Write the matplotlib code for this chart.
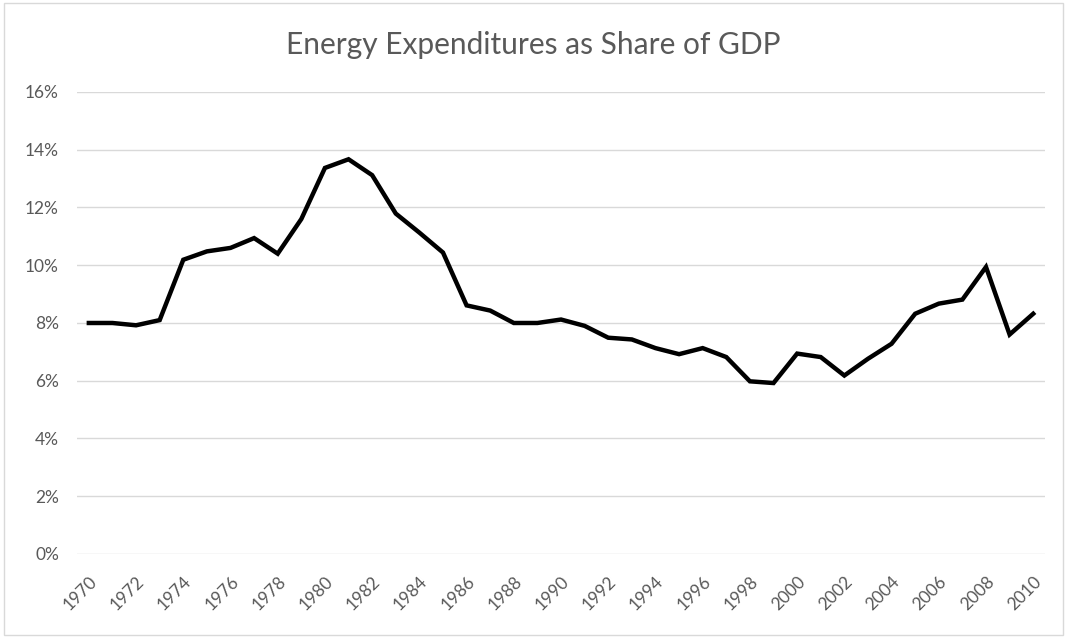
import matplotlib.pyplot as plt
from matplotlib.patches import Rectangle
import numpy as np

# Energy expenditures as share of GDP (percent)
years = list(range(1970, 2011))
share = [8.0, 8.0, 7.92, 8.1, 10.19, 10.48, 10.6, 10.94, 10.4, 11.6,
         13.37, 13.67, 13.12, 11.79, 11.13, 10.44, 8.61, 8.43, 8.0, 8.0,
         8.12, 7.9, 7.49, 7.43, 7.13, 6.92, 7.13, 6.82, 5.98, 5.92,
         6.94, 6.82, 6.18, 6.76, 7.28, 8.32, 8.67, 8.81, 9.94, 7.6,
         8.32]
y_ticks = [0, 2, 4, 6, 8, 10, 12, 14, 16]
x_ticks = list(range(1970, 2011, 2))

plt.rcParams['font.family'] = ['Lato', 'DejaVu Sans']
text_col = '#595959'

fig = plt.figure(figsize=(10.67, 6.38), dpi=100)
ax = fig.add_axes([0.0722, 0.1317, 0.9072, 0.7241])

ax.plot(years, share, color='black', lw=3.2, solid_joinstyle='miter')

ax.set_xlim(1969.5, 2010.5)
ax.set_ylim(0, 16)
ax.set_yticks(y_ticks)
ax.set_yticklabels([f'{t}%' for t in y_ticks])
ax.set_xticks(x_ticks)
ax.set_xticklabels([str(t) for t in x_ticks], rotation=45, ha='right',
                   rotation_mode='anchor')

ax.grid(axis='y', color='#d9d9d9', lw=1)
ax.set_axisbelow(True)
for s in ax.spines.values():
    s.set_visible(False)
ax.tick_params(length=0, colors=text_col, labelsize=12.5)
ax.tick_params(axis='y', pad=13)
ax.tick_params(axis='x', pad=14)

fig.text(0.5, 0.929, 'Energy Expenditures as Share of GDP', ha='center',
         va='center', fontsize=21.5, color=text_col)

# light chart-area border
fig.patches.append(Rectangle((0.004, 0.004), 0.992, 0.992, transform=fig.transFigure,
                             fill=False, edgecolor='#d9d9d9', lw=1))

fig.savefig('out.png', dpi=100)
